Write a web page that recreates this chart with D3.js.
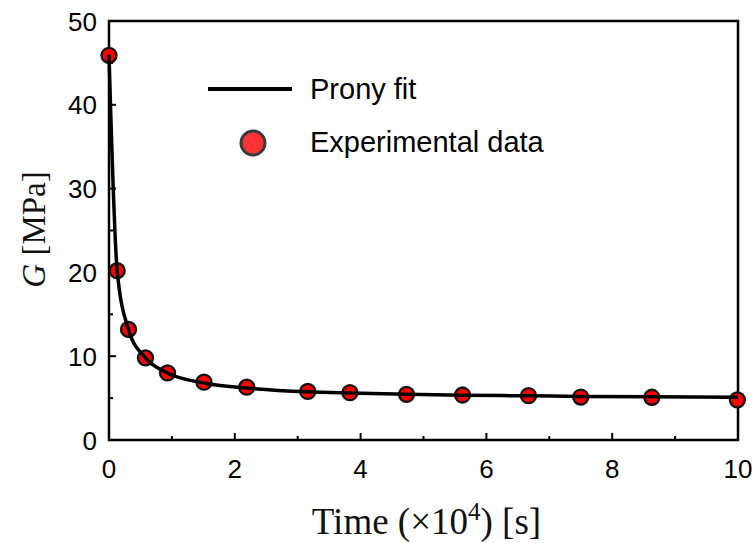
<!DOCTYPE html>
<html>
<head>
<meta charset="utf-8">
<script src="https://cdn.jsdelivr.net/npm/d3@7"></script>
<style>
  html, body { margin: 0; padding: 0; background: #fff; }
  svg { display: block; }
</style>
</head>
<body>
<svg id="chart" width="754" height="543"></svg>
<script>
// ---- data (time in 1e4 s, G in MPa) ----
const expTime = [0, 0.13, 0.31, 0.58, 0.93, 1.51, 2.19, 3.16, 3.83, 4.73, 5.62, 6.67, 7.50, 8.63, 9.99];
const expG    = [45.9, 20.2, 13.2, 9.8, 8.0, 6.9, 6.3, 5.8, 5.65, 5.45, 5.37, 5.29, 5.12, 5.1, 4.8];
const fitTime = [0, 0.13, 0.31, 0.58, 0.93, 1.51, 2.19, 3.16, 3.83, 4.73, 5.62, 6.67, 7.50, 8.63, 10];
const fitG    = [46.0, 20.2, 13.2, 9.8, 8.0, 6.8, 6.2, 5.75, 5.6, 5.45, 5.35, 5.27, 5.2, 5.15, 5.1];
const xTicks = [0, 2, 4, 6, 8, 10];
const xMinorTicks = [1, 3, 5, 7, 9];
const yTicks = [0, 10, 20, 30, 40, 50];
const yMinorTicks = [5, 15, 25, 35, 45];
const legendLabels = ["Prony fit", "Experimental data"];

const svg = d3.select("#chart");
const L = 109, R = 738, T = 21, B = 440;
const x = d3.scaleLinear().domain([0, 10]).range([L, R]);
const y = d3.scaleLinear().domain([0, 50]).range([B, T]);

const sans = "Liberation Sans, Arial, sans-serif";
const serif = "Liberation Serif, Times New Roman, serif";

// frame
svg.append("rect").attr("x", L).attr("y", T).attr("width", R - L).attr("height", B - T)
  .attr("fill", "none").attr("stroke", "#000").attr("stroke-width", 2.5);

// ticks (inward)
const gx = svg.append("g").attr("stroke", "#000").attr("stroke-width", 2);
gx.selectAll(".xmaj").data(xTicks.filter(d => d > 0 && d < 10)).enter().append("line")
  .attr("x1", d => x(d)).attr("x2", d => x(d)).attr("y1", B).attr("y2", B - 7);
gx.selectAll(".xmin").data(xMinorTicks).enter().append("line")
  .attr("x1", d => x(d)).attr("x2", d => x(d)).attr("y1", B).attr("y2", B - 4);
gx.selectAll(".ymaj").data(yTicks.filter(d => d > 0 && d < 50)).enter().append("line")
  .attr("x1", L).attr("x2", L + 7).attr("y1", d => y(d)).attr("y2", d => y(d));
gx.selectAll(".ymin").data(yMinorTicks).enter().append("line")
  .attr("x1", L).attr("x2", L + 4).attr("y1", d => y(d)).attr("y2", d => y(d));

// tick labels
svg.append("g").selectAll("text").data(xTicks).enter().append("text")
  .attr("x", d => x(d)).attr("y", 478).attr("text-anchor", "middle")
  .attr("font-family", sans).attr("font-size", 26).attr("fill", "#000").text(d => d);
svg.append("g").selectAll("text").data(yTicks).enter().append("text")
  .attr("x", 97).attr("y", d => y(d) + 9.5).attr("text-anchor", "end")
  .attr("font-family", sans).attr("font-size", 26).attr("fill", "#000").text(d => d);

// markers
const pts = expTime.map((t, i) => ({ t, g: expG[i] }));
svg.append("g").selectAll("circle").data(pts).enter().append("circle")
  .attr("cx", d => x(d.t)).attr("cy", d => y(d.g)).attr("r", 7.5)
  .attr("fill", "#ff0000").attr("stroke", "#111").attr("stroke-width", 2.3);

// fit line on top
const fit = fitTime.map((t, i) => ({ t, g: fitG[i] }));
svg.append("path").datum(fit)
  .attr("d", d3.line().x(d => x(d.t)).y(d => y(d.g)).curve(d3.curveMonotoneX))
  .attr("fill", "none").attr("stroke", "#000").attr("stroke-width", 3.5)
  .attr("stroke-linejoin", "round");

// legend
svg.append("line").attr("x1", 208).attr("x2", 292).attr("y1", 89).attr("y2", 89)
  .attr("stroke", "#000").attr("stroke-width", 4);
svg.append("circle").attr("cx", 253).attr("cy", 143).attr("r", 12)
  .attr("fill", "#ff3333").attr("stroke", "#3a3a3a").attr("stroke-width", 3);
svg.append("text").attr("x", 310).attr("y", 99).attr("font-family", sans).attr("font-size", 29)
  .attr("fill", "#000").text(legendLabels[0]);
svg.append("text").attr("x", 310).attr("y", 152).attr("font-family", sans).attr("font-size", 29)
  .attr("fill", "#000").text(legendLabels[1]);

// axis titles
const xt = svg.append("text").attr("x", (L + R) / 2 + 3).attr("y", 534).attr("text-anchor", "middle")
  .attr("font-family", serif).attr("font-size", 37).attr("fill", "#111");
xt.append("tspan").text("Time (×10");
xt.append("tspan").attr("font-size", 25).attr("dy", -14).text("4");
xt.append("tspan").attr("dy", 14).text(") [s]");

const yt = svg.append("text").attr("transform", `translate(45,${(T + B) / 2 - 1}) rotate(-90)`)
  .attr("text-anchor", "middle").attr("font-family", serif).attr("font-size", 33).attr("fill", "#111");
yt.append("tspan").attr("font-style", "italic").text("G");
yt.append("tspan").text(" [MPa]");
</script>
</body>
</html>
